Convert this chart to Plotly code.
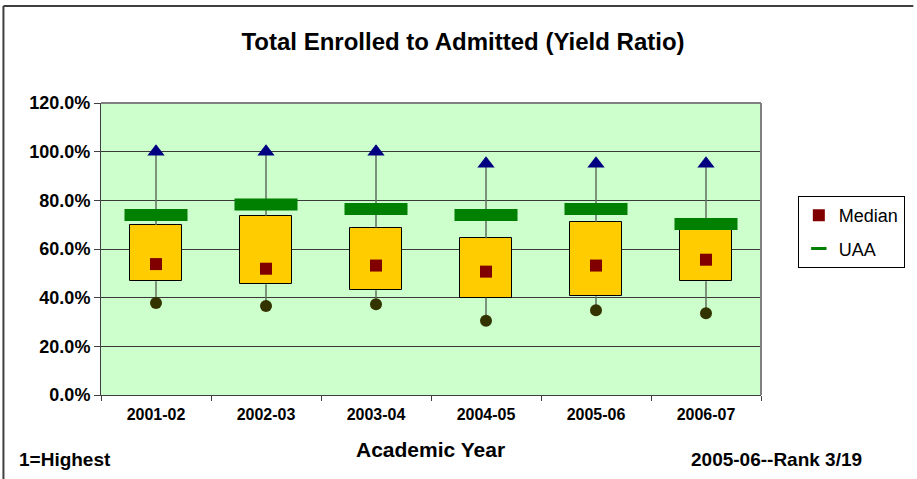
import plotly.graph_objects as go

# Значения
years = ['2001-02', '2002-03', '2003-04', '2004-05', '2005-06', '2006-07']
high = [1.00, 1.00, 1.00, 0.95, 0.95, 0.95]
box_top = [0.699, 0.737, 0.688, 0.644, 0.712, 0.68]
box_bottom = [0.467, 0.455, 0.430, 0.400, 0.406, 0.467]
median = [0.538, 0.519, 0.532, 0.507, 0.532, 0.556]
uaa = [0.74, 0.783, 0.764, 0.74, 0.764, 0.703]
low = [0.378, 0.366, 0.373, 0.305, 0.348, 0.336]

W, H = 917, 479
L, R, T, B = 101, 764, 103, 395
FONT = 'Liberation Sans, Arial, sans-serif'


def px_x(px):
    return (px - L) / (R - L)


def px_y(py):
    return (B - py) / (B - T)


# Усы: от максимума до верха ящика и от низа ящика до минимума
wx, wy = [], []
for yr, hi, top, bot, lo in zip(years, high, box_top, box_bottom, low):
    wx += [yr, yr, None, yr, yr, None]
    wy += [hi, top, None, bot, lo, None]

fig = go.Figure()

fig.add_trace(go.Bar(
    x=years,
    y=[t - b for t, b in zip(box_top, box_bottom)],
    base=box_bottom,
    width=0.47,
    marker=dict(color='#FFCC00', line=dict(color='#000000', width=1)),
    showlegend=False
))

fig.add_trace(go.Scatter(
    x=wx, y=wy,
    mode='lines',
    line=dict(color='#5f6f5f', width=1.5),
    showlegend=False
))

# line-ew рисуется шириной 1.4*size
fig.add_trace(go.Scatter(
    x=years, y=uaa,
    mode='markers',
    marker=dict(symbol='line-ew', size=45, line=dict(color='#008000', width=12)),
    showlegend=False
))

fig.add_trace(go.Scatter(
    x=years, y=median,
    mode='markers',
    name='Median',
    legendgroup='a',
    marker=dict(symbol='square', size=12, color='#800000'),
))

fig.add_trace(go.Scatter(
    x=years, y=high,
    mode='markers',
    marker=dict(symbol='triangle-up', size=15, color='#000080'),
    showlegend=False
))

fig.add_trace(go.Scatter(
    x=years, y=low,
    mode='markers',
    marker=dict(symbol='circle', size=12, color='#333300'),
    showlegend=False
))

# Только для легенды
fig.add_trace(go.Scatter(
    x=[None], y=[None],
    mode='markers',
    name='UAA',
    legendgroup='b',
    marker=dict(symbol='line-ew', size=11, line=dict(color='#008000', width=3)),
))

fig.update_layout(
    width=W, height=H,
    autosize=False,
    margin=dict(l=L, r=W - R, t=T, b=H - B),
    paper_bgcolor='white',
    plot_bgcolor='#CCFFCC',
    font=dict(family=FONT, color='#000000'),
    title=dict(
        text='Total Enrolled to Admitted (Yield Ratio)',
        font=dict(size=24, weight='bold'),
        x=463 / W, xanchor='center', xref='container',
        y=1 - 42 / H, yanchor='middle', yref='container'
    ),
    showlegend=True,
    legend=dict(
        x=px_x(801), y=px_y(196),
        xanchor='left', yanchor='top',
        bordercolor='#000000', borderwidth=1,
        bgcolor='white',
        font=dict(size=18),
        traceorder='grouped',
        tracegroupgap=7
    ),
    xaxis=dict(
        type='category',
        range=[-0.5, 5.5],
        tickson='boundaries',
        ticks='outside', ticklen=5, tickcolor='#404040',
        ticklabelstandoff=5,
        showgrid=False,
        showline=True, linecolor='#404040', linewidth=1,
        tickfont=dict(size=16, weight='bold'),
    ),
    yaxis=dict(
        range=[0, 1.2],
        dtick=0.2,
        tickformat='.1%',
        ticks='outside', ticklen=6, tickcolor='#404040',
        showgrid=True, gridcolor='#3a3a3a', gridwidth=1,
        zeroline=False,
        showline=True, linecolor='#404040', linewidth=1,
        tickfont=dict(size=18, weight='bold'),
    ),
    bargap=0,
    annotations=[
        dict(text='Academic Year', x=px_x(432), y=px_y(449), xref='paper', yref='paper',
             xanchor='center', yanchor='middle', showarrow=False,
             font=dict(size=21, weight='bold')),
        dict(text='1=Highest', x=px_x(17), y=px_y(459), xref='paper', yref='paper',
             xanchor='left', yanchor='middle', showarrow=False,
             font=dict(size=19, weight='bold')),
        dict(text='2005-06--Rank 3/19', x=px_x(867), y=px_y(459), xref='paper', yref='paper',
             xanchor='right', yanchor='middle', showarrow=False,
             font=dict(size=19, weight='bold')),
    ],
    shapes=[
        # рамка области построения
        dict(type='line', xref='paper', yref='paper', x0=0, x1=1, y0=1, y1=1,
             line=dict(color='#808080', width=2), layer='above'),
        dict(type='line', xref='paper', yref='paper', x0=1, x1=1, y0=0, y1=1,
             line=dict(color='#808080', width=2), layer='above'),
        # рамка всей диаграммы
        dict(type='line', xref='paper', yref='paper', x0=px_x(3), x1=px_x(W), y0=px_y(6), y1=px_y(6),
             line=dict(color='#404040', width=2)),
        dict(type='line', xref='paper', yref='paper', x0=px_x(3), x1=px_x(3), y0=px_y(6), y1=px_y(H),
             line=dict(color='#404040', width=2)),
    ]
)

fig.write_html('out.html', config={'displayModeBar': False},
               post_script="document.body.style.margin='0';")
